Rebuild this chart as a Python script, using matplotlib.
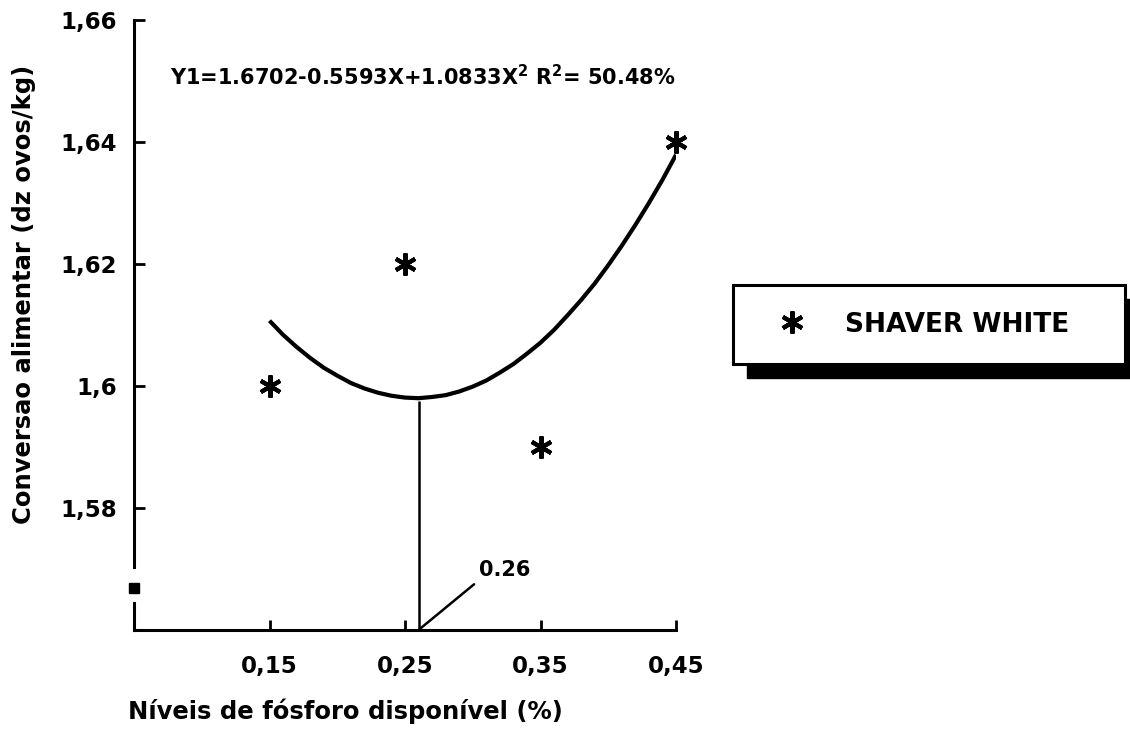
import matplotlib
matplotlib.use("Agg")
import matplotlib.pyplot as plt
from matplotlib.patches import Rectangle

# observed points
niveis = [0.15, 0.25, 0.35, 0.45]
conversao = [1.60, 1.62, 1.59, 1.64]

# fitted curve
curva_x = [0.15, 0.16, 0.17, 0.18, 0.19, 0.20, 0.21, 0.22, 0.23, 0.24,
           0.25, 0.26, 0.27, 0.28, 0.29, 0.30, 0.31, 0.32, 0.33, 0.34,
           0.35, 0.36, 0.37, 0.38, 0.39, 0.40, 0.41, 0.42, 0.43, 0.44, 0.45]
curva_y = [1.6107, 1.6084, 1.6064, 1.6046, 1.6030, 1.6017, 1.6005, 1.5996,
           1.5989, 1.5984, 1.5981, 1.5980, 1.5982, 1.5985, 1.5991, 1.5999,
           1.6009, 1.6022, 1.6036, 1.6053, 1.6071, 1.6092, 1.6116, 1.6141,
           1.6168, 1.6198, 1.6230, 1.6264, 1.6300, 1.6338, 1.6379]

otimo_x = 0.26
otimo_y = 1.5976

xticks = [0.15, 0.25, 0.35, 0.45]
xtick_labels = ['0,15', '0,25', '0,35', '0,45']
yticks = [1.58, 1.60, 1.62, 1.64, 1.66]
ytick_labels = ['1,58', '1,6', '1,62', '1,64', '1,66']

# axis break on the y axis
quebra = [1.5652, 1.5695]
quebra_marca = 1.5669

equacao = r'Y1=1.6702-0.5593X+1.0833X$^{\mathbf{2}}$ R$^{\mathbf{2}}$= 50.48%'

plt.rcParams['font.family'] = 'DejaVu Sans'
plt.rcParams['font.weight'] = 'bold'
plt.rcParams['mathtext.fontset'] = 'dejavusans'

fig = plt.figure(figsize=(11.3, 7.3), dpi=100)
ax = fig.add_axes([134 / 1130, 100 / 730, 542 / 1130, 610 / 730])

ax.set_xlim(0.05, 0.45)
ax.set_ylim(1.56, 1.66)

ax.spines['right'].set_visible(False)
ax.spines['top'].set_visible(False)
ax.spines['left'].set_linewidth(2.2)
ax.spines['bottom'].set_linewidth(2.2)

ax.set_xticks(xticks)
ax.set_xticklabels(xtick_labels, fontsize=16.5, fontweight='bold')
ax.set_yticks(yticks)
ax.set_yticklabels(ytick_labels, fontsize=16.5, fontweight='bold')
ax.tick_params(axis='x', direction='in', length=7, width=2, pad=18)
ax.tick_params(axis='y', direction='in', length=8, width=2, pad=12)

# curve + points
ax.plot(curva_x, curva_y, color='black', lw=3, solid_capstyle='butt')
pts, = ax.plot(niveis, conversao, linestyle='none', marker=(6, 2, 0),
               ms=16, mew=3, color='black', clip_on=False,
               label='SHAVER WHITE')

# optimum line and label
ax.vlines(otimo_x, 1.56, otimo_y, color='black', lw=1.8)
ax.annotate('0.26', xy=(otimo_x, 1.56), xytext=(0.3046, 1.5698),
            fontsize=15, fontweight='bold', ha='left', va='center',
            arrowprops=dict(arrowstyle='-', color='black', lw=1.8,
                            shrinkA=2, shrinkB=0, relpos=(0, 0)))

ax.text(0.0767, 1.6507, equacao, fontsize=15, fontweight='bold', va='center')

# axis break
ax.plot([0.05, 0.05], quebra, color='white', lw=5, clip_on=False, zorder=3)
ax.plot([0.05], [quebra_marca], marker='s', ms=7, color='black',
        clip_on=False, zorder=4)

ax.set_xlabel('Níveis de fósforo disponível (%)', fontsize=17.5, fontweight='bold')
ax.set_ylabel('Conversao alimentar (dz ovos/kg)', fontsize=17.5, fontweight='bold')
ax.xaxis.set_label_coords(0.391, -0.112)
ax.yaxis.set_label_coords(-0.18, 0.551)

# legend box with heavy shadow
leg = fig.legend(handles=[pts], loc='center', mode='expand',
                 bbox_to_anchor=(733 / 1130, (730 - 366) / 730, 392 / 1130, 83 / 730),
                 borderaxespad=0, fancybox=False, framealpha=1,
                 edgecolor='black', borderpad=1.0,
                 handlelength=2.5, handletextpad=0.75,
                 prop={'weight': 'bold', 'size': 19})
leg.get_frame().set_linewidth(2.2)
leg.set_zorder(6)

fig.canvas.draw()
bb = leg.get_frame().get_window_extent()
inv = fig.transFigure.inverted()
(x0, y0), (x1, y1) = inv.transform([[bb.x0 + 14, bb.y0 - 14], [bb.x1 + 14, bb.y1 - 14]])
fig.add_artist(Rectangle((x0, y0), x1 - x0, y1 - y0, transform=fig.transFigure,
                         facecolor='black', edgecolor='black', zorder=5))

plt.savefig('out.png', dpi=100)
